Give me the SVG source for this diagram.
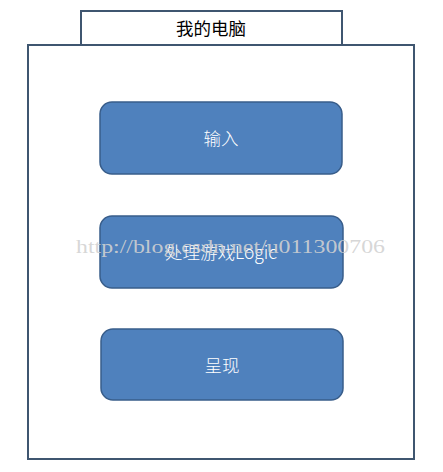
<svg xmlns="http://www.w3.org/2000/svg" width="443" height="472" viewBox="0 0 443 472">
<style>
.frame{fill:#fff;stroke:#3f5670;stroke-width:2}
.box{fill:#4f81bd;stroke:#385d8a;stroke-width:1.5}
.lbl{font-family:"Microsoft YaHei","Noto Sans CJK SC",sans-serif;font-size:17.5px;font-weight:300;fill:#fff;text-anchor:middle}
.title{font-family:"Microsoft YaHei","Noto Sans CJK SC",sans-serif;font-size:17.5px;fill:#000;text-anchor:middle}
.wm{font-family:"Liberation Serif",serif;font-size:18px;fill:#d2d2d2;fill-opacity:0.9}
</style>
<rect width="443" height="472" fill="#fff"/>
<g id="computer">
<rect class="frame" x="81" y="11" width="261" height="34"/>
<rect class="frame" x="28" y="45" width="386" height="414"/>
<text class="title" x="211" y="35">我的电脑</text>
</g>
<g id="connectors"></g>
<g id="input">
<rect class="box" x="100" y="102" width="242" height="72" rx="12"/>
<text class="lbl" x="221" y="145">输入</text>
</g>
<g id="logic">
<rect class="box" x="100" y="216" width="243" height="72" rx="12"/>
<text class="lbl" x="221" y="259">处理游戏Logic</text>
</g>
<g id="render">
<rect class="box" x="101" y="329" width="242" height="71" rx="12"/>
<text class="lbl" x="222" y="372">呈现</text>
</g>
<text class="wm" x="76" y="253" textLength="309" lengthAdjust="spacingAndGlyphs">http://blog.csdn.net/u011300706</text>
</svg>
